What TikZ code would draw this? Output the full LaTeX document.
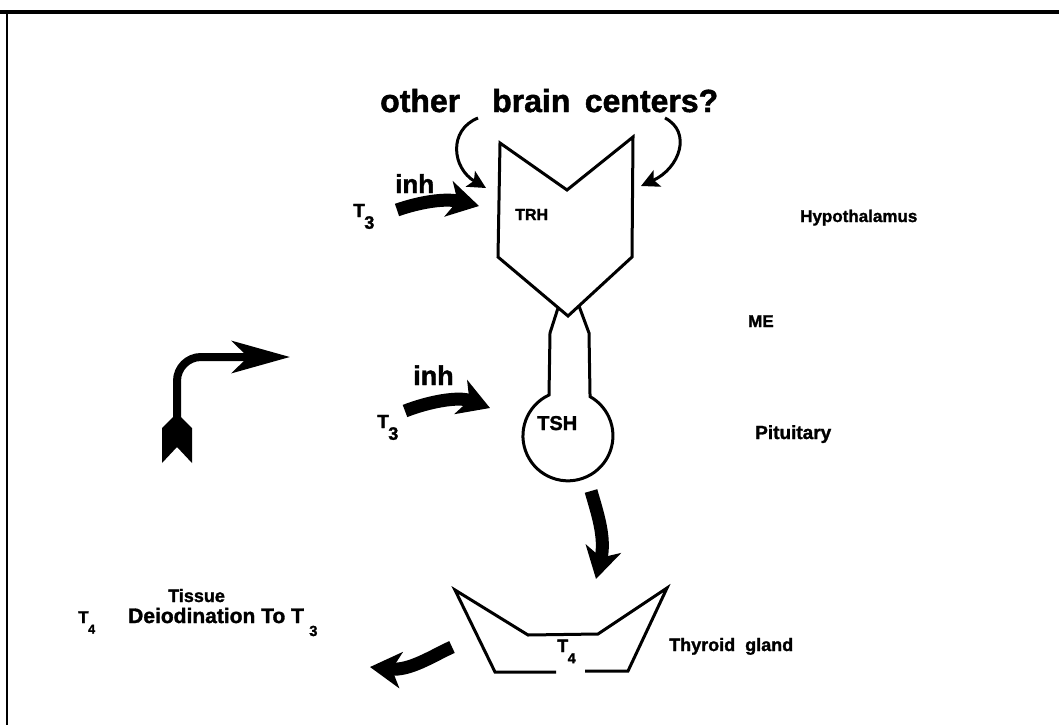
\documentclass[tikz,border=0pt]{standalone}
\usepackage{fontspec}
\usepackage{graphicx}
\setmainfont{Liberation Sans}[BoldFeatures={FakeBold=1.5}]
\usetikzlibrary{arrows.meta}
\newcommand\lowsub[2][0.7]{\kern-0.5pt\raisebox{-0.62em}{\scalebox{#1}{#2}}}

\begin{document}
\begin{tikzpicture}[x=1pt, y=-1pt,
    lbl/.style={inner sep=0pt, anchor=base west, font=\bfseries\fontsize{17}{17}\selectfont},
    organ/.style={line width=3pt, line join=miter},
    fat/.style={line width=13pt, -{Stealth[length=31pt,width=36pt,inset=9pt]}},
    feed/.style={line width=3pt, -{Stealth[length=18pt,width=18pt,inset=4pt]}},
  ]
  \useasboundingbox (0,0) rectangle (1059,725);

  % frame
  \draw[line width=4pt] (0,12) -- (1059,12);
  \draw[line width=2pt] (7,11) -- (7,725);

  % Hypothalamus (TRH)
  \draw[organ] (500,143) -- (567,190) -- (633,137) -- (632,257) -- (568,316) -- (498,257) -- cycle;
  \node[lbl, font=\bfseries\fontsize{16}{16}\selectfont] (trh) at (515,220) {TRH};

  % stalk and pituitary (TSH)
  \draw[organ] (558,308) -- (550,333) -- (549,395)
    arc[start angle=245.1, end angle=-60.6, radius=45] -- (589,333) -- (579,306);
  \node[lbl, font=\bfseries\fontsize{20}{20}\selectfont] (tsh) at (537,430) {TSH};

  % thyroid
  \draw[organ] (556,672) -- (495,672) -- (455,590) -- (528,635) -- (598,634)
    -- (667,588) -- (628,671) -- (585,671);
  \node[lbl, font=\bfseries\fontsize{18}{18}\selectfont] (t4gl) at (557,652) {T\lowsub[0.8]{4}};

  % labels
  \node[lbl, font=\bfseries\fontsize{32}{32}\selectfont] (brain) at (380,112)
    {other\hspace{1.0em}brain\hspace{0.45em}centers?};
  \node[lbl] (hypo) at (800,222) {Hypothalamus};
  \node[lbl] (me) at (748,327) {ME};
  \node[lbl, font=\bfseries\fontsize{19}{19}\selectfont] (pit) at (755,439) {Pituitary};
  \node[lbl, font=\bfseries\fontsize{18}{18}\selectfont] (thy) at (669,651) {Thyroid\ \ gland};
  \node[lbl, font=\bfseries\fontsize{18}{18}\selectfont] (tis) at (168,602) {Tissue};
  \node[lbl, font=\bfseries\fontsize{17}{17}\selectfont] (t4t) at (78,623) {T\lowsub[0.75]{4}};
  \node[lbl, font=\bfseries\fontsize{21}{21}\selectfont] (deio) at (128,623)
    {Deiodination To T \lowsub[0.7]{3}};

  \node[lbl, font=\bfseries\fontsize{19}{19}\selectfont] (t3a) at (353,217) {T\lowsub[0.95]{3}};
  \node[lbl, font=\bfseries\fontsize{26}{26}\selectfont] (inha) at (395,193) {inh};
  \node[lbl, font=\bfseries\fontsize{19}{19}\selectfont] (t3b) at (377,428) {T\lowsub[0.95]{3}};
  \node[lbl, font=\bfseries\fontsize{27}{27}\selectfont] (inhb) at (413,385) {inh};

  % other brain centers feed in
  \coordinate (fl) at (478,118);
  \coordinate (fle) at (486,188);
  \coordinate (fr) at (665,118);
  \coordinate (fre) at (641,186);
  \draw[feed] (fl) .. controls (448,130) and (452,168) .. (fle);
  \draw[feed] (fr) .. controls (692,132) and (680,168) .. (fre);

  % thick arrows
  \coordinate (a1s) at (397,210);
  \coordinate (a1e) at (479,206);
  \draw[fat] (a1s) .. controls (420,202) and (445,198) .. (a1e);
  \coordinate (a2s) at (405,411);
  \coordinate (a2e) at (490,408);
  \draw[fat] (a2s) .. controls (428,402) and (458,396) .. (a2e);
  \coordinate (a3s) at (591,491);
  \coordinate (a3e) at (596,579);
  \draw[fat] (a3s) .. controls (597,512) and (606,538) .. (a3e);
  \coordinate (a4s) at (452,647);
  \coordinate (a4e) at (370,667);
  \draw[fat] (a4s) .. controls (432,656) and (410,671) .. (a4e);

  % bent arrow
  \coordinate (btail) at (177,418);
  \coordinate (bhead) at (290,357);
  \draw[line width=8pt, rounded corners=24pt, -{Stealth[length=58pt,width=32pt,inset=16pt]}]
    (btail) |- (bhead);
  \fill (btail) ++(0,-5) -- ++(15,15) -- ++(0,35) -- ++(-15,-16) -- ++(-15,16) -- ++(0,-35) -- cycle;
\end{tikzpicture}
\end{document}
